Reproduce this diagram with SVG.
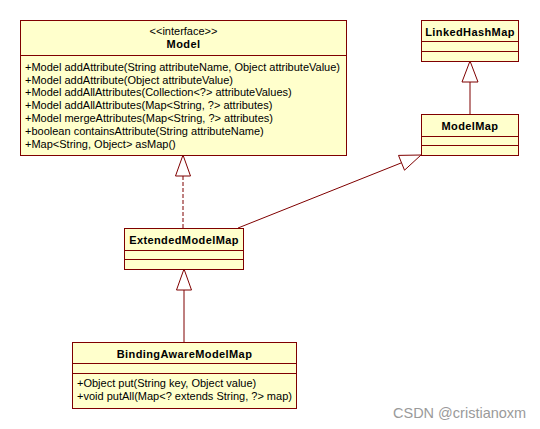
<svg xmlns="http://www.w3.org/2000/svg" width="540" height="429" viewBox="0 0 540 429">
<style>
.box{fill:#ffffcc;stroke:#7f0000;stroke-width:1}
.ln{stroke:#7f0000;stroke-width:1;fill:none}
.tri{fill:#ffffff;stroke:#7f0000;stroke-width:1}
.t{font-family:"Liberation Sans",Arial,sans-serif;font-size:11px;fill:#000}
.b{font-family:"Liberation Sans",Arial,sans-serif;font-size:11px;font-weight:bold;letter-spacing:0.4px;fill:#000}
.wm{font-family:"Liberation Sans",Arial,sans-serif;font-size:14.5px;fill:#9a9a9a}
</style>
<rect width="540" height="429" fill="#ffffff"/>
<g id="connectors">
<line class="ln" x1="183" y1="176" x2="183" y2="228" stroke-dasharray="4,2"/>
<polygon class="tri" points="183,155 175.5,176 190.5,176"/>
<line class="ln" x1="470" y1="82" x2="470" y2="114"/>
<polygon class="tri" points="470,61 462,82 478,82"/>
<line class="ln" x1="238" y1="228" x2="401.5" y2="162.8"/>
<polygon class="tri" points="421,155 398.5,155.4 404.5,170.2"/>
<line class="ln" x1="184" y1="290" x2="184" y2="342"/>
<polygon class="tri" points="184,269 176.5,290 191.5,290"/>
</g>
<g id="Model">
<rect class="box" x="20.5" y="20.5" width="326" height="135"/>
<line class="ln" x1="20.5" y1="55.5" x2="346.5" y2="55.5"/>
<text class="t" x="183.5" y="35" text-anchor="middle">&lt;&lt;interface&gt;&gt;</text>
<text class="b" x="183.5" y="48" text-anchor="middle">Model</text>
<text class="t" x="25" y="71">+Model addAttribute(String attributeName, Object attributeValue)</text>
<text class="t" x="25" y="84">+Model addAttribute(Object attributeValue)</text>
<text class="t" x="25" y="96">+Model addAllAttributes(Collection&lt;?&gt; attributeValues)</text>
<text class="t" x="25" y="109">+Model addAllAttributes(Map&lt;String, ?&gt; attributes)</text>
<text class="t" x="25" y="122">+Model mergeAttributes(Map&lt;String, ?&gt; attributes)</text>
<text class="t" x="25" y="135">+boolean containsAttribute(String attributeName)</text>
<text class="t" x="25" y="148">+Map&lt;String, Object&gt; asMap()</text>
</g>
<g id="LinkedHashMap">
<rect class="box" x="421.5" y="20.5" width="97" height="41"/>
<line class="ln" x1="421.5" y1="41.5" x2="518.5" y2="41.5"/>
<line class="ln" x1="421.5" y1="51.5" x2="518.5" y2="51.5"/>
<text class="b" x="470" y="36" text-anchor="middle">LinkedHashMap</text>
</g>
<g id="ModelMap">
<rect class="box" x="421.5" y="114.5" width="97" height="41"/>
<line class="ln" x1="421.5" y1="136.5" x2="518.5" y2="136.5"/>
<line class="ln" x1="421.5" y1="145.5" x2="518.5" y2="145.5"/>
<text class="b" x="470" y="130" text-anchor="middle">ModelMap</text>
</g>
<g id="ExtendedModelMap">
<rect class="box" x="124.5" y="228.5" width="119" height="41"/>
<line class="ln" x1="124.5" y1="250.5" x2="243.5" y2="250.5"/>
<line class="ln" x1="124.5" y1="259.5" x2="243.5" y2="259.5"/>
<text class="b" x="184" y="243.5" text-anchor="middle">ExtendedModelMap</text>
</g>
<g id="BindingAwareModelMap">
<rect class="box" x="72.5" y="342.5" width="224" height="66"/>
<line class="ln" x1="72.5" y1="363.5" x2="296.5" y2="363.5"/>
<line class="ln" x1="72.5" y1="373.5" x2="296.5" y2="373.5"/>
<text class="b" x="184.5" y="357.5" text-anchor="middle">BindingAwareModelMap</text>
<text class="t" x="77" y="387">+Object put(String key, Object value)</text>
<text class="t" x="77" y="400">+void putAll(Map&lt;? extends String, ?&gt; map)</text>
</g>
<text class="wm" x="393" y="418">CSDN @cristianoxm</text>
</svg>
